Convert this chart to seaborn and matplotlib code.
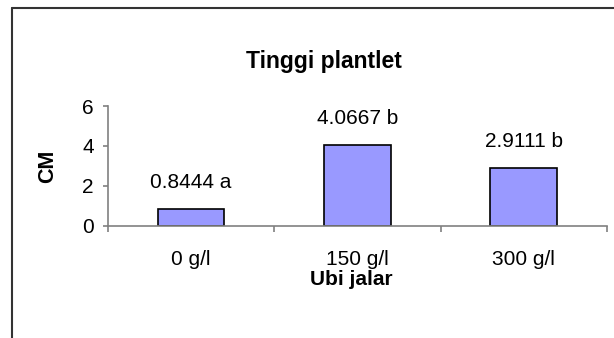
import matplotlib
matplotlib.use("Agg")
import matplotlib.pyplot as plt
from matplotlib.lines import Line2D
from matplotlib.ticker import FixedLocator
import seaborn as sns
import pandas as pd

# Plantlet height (cm) per sweet potato concentration, with significance letters
treatments = ["0 g/l", "150 g/l", "300 g/l"]
heights = [0.8444, 4.0667, 2.9111]
letters = ["a", "b", "b"]
y_ticks = [0, 2, 4, 6]

sns.set_style("white")
plt.rcParams["font.family"] = ["Liberation Sans", "DejaVu Sans"]
plt.rcParams["text.color"] = "black"
plt.rcParams["axes.labelcolor"] = "black"
plt.rcParams["xtick.labelcolor"] = "black"
plt.rcParams["ytick.labelcolor"] = "black"

df = pd.DataFrame({"treatment": treatments, "height": heights})

W, H = 614, 338
fig = plt.figure(figsize=(W / 100, H / 100), dpi=100)
fig.patch.set_facecolor("white")

# axes box in pixels: left 107.7, right 607, y=0 at 225.7, y=6 at 106
ax = fig.add_axes([107.7 / W, (H - 225.7) / H, (607 - 107.7) / W, (225.7 - 106) / H])

sns.barplot(data=df, x="treatment", y="height", color="#9999FF", saturation=1,
            edgecolor="black", linewidth=1.2, width=0.4, ax=ax)

ax.set_xlim(-0.5, len(treatments) - 0.5)
ax.set_ylim(0, 6)

axis_gray = "#808080"
for side in ("top", "right"):
    ax.spines[side].set_visible(False)
for side in ("left", "bottom"):
    ax.spines[side].set_color(axis_gray)
    ax.spines[side].set_linewidth(1.2)

# y axis ticks
ax.set_yticks(y_ticks)
ax.set_yticklabels([str(t) for t in y_ticks])
ax.tick_params(axis="y", which="major", direction="out", length=3.6, width=1.2,
               color=axis_gray, labelsize=15, labelcolor="black", pad=6.5, left=True)

# x axis: tick marks at category boundaries, labels at category centres
ax.xaxis.set_major_locator(FixedLocator([-0.5, 0.5, 1.5, 2.5]))
ax.xaxis.set_minor_locator(FixedLocator(list(range(len(treatments)))))
ax.set_xticklabels([], minor=False)
ax.set_xticklabels(treatments, minor=True)
ax.tick_params(axis="x", which="major", direction="out", length=4, width=1.2,
               color=axis_gray, bottom=True)
ax.tick_params(axis="x", which="minor", length=0, labelsize=15, labelcolor="black",
               pad=17.5, bottom=True)

# value labels above each bar
for i, (v, l) in enumerate(zip(heights, letters)):
    ax.annotate(f"{v:.4f} {l}", xy=(i, v), xytext=(0, 15), textcoords="offset points",
                ha="center", va="baseline", fontsize=15, color="black")

ax.set_xlabel("Ubi jalar", fontsize=15, fontweight="bold", va="baseline", color="black")
ax.xaxis.set_label_coords((351.6 - 107.7) / (607 - 107.7), -(285 - 225.7) / (225.7 - 106))
ax.set_ylabel("CM", fontsize=15.5, fontweight="bold", va="center", color="black")
ax.yaxis.set_label_coords((48 - 107.7) / (607 - 107.7), 0.5)

ax.set_title("Tinggi plantlet", fontsize=16.5, fontweight="bold", color="black", pad=0,
             x=(324 - 107.7) / (607 - 107.7), y=(225.7 - 68.3) / (225.7 - 106), va="baseline")

# chart area border (top and left edges visible)
frame_color = "#333333"
x0, y0 = 12 / W, 1 - 7.5 / H
fig.add_artist(Line2D([x0, 1.05], [y0, y0], transform=fig.transFigure,
                      color=frame_color, linewidth=1.5, clip_on=False))
fig.add_artist(Line2D([x0, x0], [y0, -0.05], transform=fig.transFigure,
                      color=frame_color, linewidth=1.5, clip_on=False))

fig.savefig("out.png", dpi=100, facecolor="white")
